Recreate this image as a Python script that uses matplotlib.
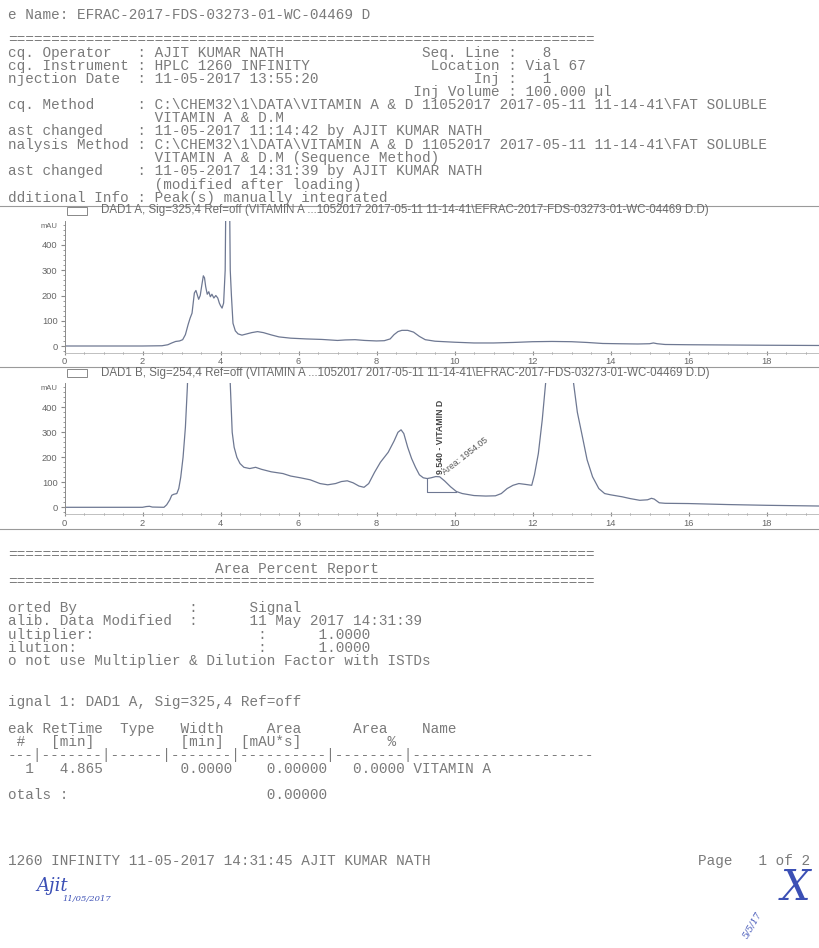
import matplotlib
matplotlib.use('Agg')
import matplotlib.pyplot as plt
from matplotlib.patches import Rectangle
from matplotlib.lines import Line2D
from matplotlib.ticker import MultipleLocator

W, H = 819, 948

# DAD1 A, 325 nm  (time in min, response in mAU)
sigA_time = [0.0, 1.0, 2.0, 2.5, 2.65, 2.75, 2.85, 2.95, 3.03, 3.1, 3.17, 3.22, 3.27,
             3.3, 3.33, 3.37, 3.41, 3.44, 3.48, 3.52, 3.56, 3.59, 3.62, 3.66, 3.7,
             3.74, 3.78, 3.83, 3.88, 3.93, 3.97, 4.0, 4.04, 4.08, 4.12, 4.15, 4.22,
             4.25, 4.28, 4.32, 4.38, 4.45, 4.55, 4.65, 4.8, 4.95, 5.1, 5.3, 5.5, 5.8,
             6.2, 6.6, 7.0, 7.2, 7.45, 7.7, 8.0, 8.2, 8.35, 8.45, 8.55, 8.65, 8.8,
             8.95, 9.1, 9.25, 9.5, 10.0, 10.5, 11.0, 11.5, 12.0, 12.5, 13.0, 13.4,
             13.8, 14.2, 14.7, 15.0, 15.1, 15.2, 15.4, 16.0, 17.0, 18.0, 19.4]
sigA_mau = [0, 0, 0, 1, 5, 12, 18, 20, 25, 45, 85, 110, 130,
            170, 210, 220, 200, 185, 200, 240, 278, 270, 235, 205, 215,
            195, 205, 190, 200, 190, 170, 160, 150, 170, 300, 800, 800,
            300, 200, 90, 60, 48, 43, 47, 53, 57, 53, 44, 36, 31,
            28, 26, 22, 24, 25, 22, 20, 21, 28, 45, 57, 62, 62,
            55, 38, 25, 19, 15, 12, 12, 14, 17, 18, 17, 14,
            10, 9, 8, 9, 12, 9, 6, 5, 4, 3, 2]

# DAD1 B, 254 nm
sigB_time = [0.0, 1.0, 2.0, 2.1, 2.18, 2.25, 2.55, 2.62, 2.7, 2.75, 2.8, 2.88, 2.93,
             2.98, 3.04, 3.1, 3.15, 3.2, 3.4, 3.8, 4.2, 4.25, 4.3, 4.35, 4.42, 4.5,
             4.6, 4.75, 4.9, 5.05, 5.3, 5.6, 5.8, 6.05, 6.3, 6.55, 6.75, 6.95, 7.1,
             7.25, 7.4, 7.55, 7.68, 7.8, 7.95, 8.1, 8.3, 8.45, 8.55, 8.63, 8.7, 8.8,
             8.9, 9.0, 9.1, 9.2, 9.3, 9.4, 9.52, 9.62, 9.75, 9.9, 10.05, 10.2, 10.5,
             10.8, 11.05, 11.2, 11.35, 11.5, 11.65, 11.8, 11.98, 12.05, 12.15, 12.25,
             12.35, 12.6, 12.9, 13.05, 13.15, 13.28, 13.4, 13.54, 13.7, 13.85, 14.0,
             14.3, 14.5, 14.75, 14.95, 15.05, 15.12, 15.25, 15.4, 16.0, 17.0, 18.0, 19.4]
sigB_mau = [0, 0, 0, 3, 4, 1, 0, 10, 30, 48, 52, 55, 75,
            120, 200, 320, 480, 700, 1500, 2000, 800, 495, 300, 240, 200, 175,
            160, 155, 160, 152, 142, 135, 125, 118, 110, 95, 90, 95, 103,
            106, 98, 85, 80, 95, 140, 180, 220, 265, 300, 310, 295, 240,
            195, 160, 130, 118, 115, 118, 123, 122, 105, 82, 63, 55, 47,
            45, 46, 55, 75, 88, 95, 92, 88, 130, 215, 350,
            520, 1500, 1000, 500, 380, 282, 190, 122, 75, 55, 50,
            42, 35, 28, 30, 36, 33, 18, 16, 15, 11, 8, 5]

# manual integration baseline under the vitamin D peak
base_time = [9.30, 9.30, 10.05]
base_mau = [115, 62, 62]

x_ticks = [0, 2, 4, 6, 8, 10, 12, 14, 16, 18]
y_ticks = [0, 100, 200, 300, 400]

peak_label = '9.540 - VITAMIN D'
area_label = 'Area: 1954.05'
titleA = 'DAD1 A, Sig=325,4 Ref=off (VITAMIN A ...1052017 2017-05-11 11-14-41\\EFRAC-2017-FDS-03273-01-WC-04469 D.D)'
titleB = 'DAD1 B, Sig=254,4 Ref=off (VITAMIN A ...1052017 2017-05-11 11-14-41\\EFRAC-2017-FDS-03273-01-WC-04469 D.D)'


def row(*parts):
    s = ''
    for col, txt in parts:
        s = s.ljust(col) + txt
    return s


report_lines = [
    (15, row((0, 'e Name: EFRAC-2017-FDS-03273-01-WC-04469 D'))),
    (40, '=' * 68),
    (53, row((0, 'cq. Operator'), (15, ': AJIT KUMAR NATH'), (48, 'Seq. Line :   8'))),
    (66, row((0, 'cq. Instrument'), (15, ': HPLC 1260 INFINITY'), (49, 'Location : Vial 67'))),
    (79, row((0, 'njection Date'), (15, ': 11-05-2017 13:55:20'), (54, 'Inj :   1'))),
    (92, row((47, 'Inj Volume : 100.000 \u00b5l'))),
    (105, row((0, 'cq. Method'), (15, ': C:\\CHEM32\\1\\DATA\\VITAMIN A & D 11052017 2017-05-11 11-14-41\\FAT SOLUBLE'))),
    (118, row((17, 'VITAMIN A & D.M'))),
    (131, row((0, 'ast changed'), (15, ': 11-05-2017 11:14:42 by AJIT KUMAR NATH'))),
    (144.5, row((0, 'nalysis Method'), (15, ': C:\\CHEM32\\1\\DATA\\VITAMIN A & D 11052017 2017-05-11 11-14-41\\FAT SOLUBLE'))),
    (158, row((17, 'VITAMIN A & D.M (Sequence Method)'))),
    (171, row((0, 'ast changed'), (15, ': 11-05-2017 14:31:39 by AJIT KUMAR NATH'))),
    (184.5, row((17, '(modified after loading)'))),
    (198, row((0, 'dditional Info'), (15, ': Peak(s) manually integrated'))),
    (555, '=' * 68),
    (569, row((24, 'Area Percent Report'))),
    (582, '=' * 68),
    (608, row((0, 'orted By'), (21, ':'), (28, 'Signal'))),
    (621, row((0, 'alib. Data Modified'), (21, ':'), (28, '11 May 2017 14:31:39'))),
    (635, row((0, 'ultiplier:'), (29, ':'), (36, '1.0000'))),
    (648, row((0, 'ilution:'), (29, ':'), (36, '1.0000'))),
    (661, 'o not use Multiplier & Dilution Factor with ISTDs'),
    (702, 'ignal 1: DAD1 A, Sig=325,4 Ref=off'),
    (729, row((0, 'eak'), (4, 'RetTime'), (13, 'Type'), (20, 'Width'), (30, 'Area'), (40, 'Area'), (48, 'Name'))),
    (742, row((1, '#'), (5, '[min]'), (20, '[min]'), (27, '[mAU*s]'), (44, '%'))),
    (755, '---|-------|------|-------|----------|--------|---------------------'),
    (769, row((2, '1'), (6, '4.865'), (20, '0.0000'), (30, '0.00000'), (40, '0.0000 VITAMIN A'))),
    (795, row((0, 'otals :'), (30, '0.00000'))),
    (861, row((0, '1260 INFINITY 11-05-2017 14:31:45 AJIT KUMAR NATH'), (80, 'Page   1 of 2'))),
]

TXT = '#7a7a7a'
LINE = '#6e7892'
MONO = 'Liberation Mono'
SANS = 'Liberation Sans'


def P(x, y):
    return x / W, 1 - y / H


fig = plt.figure(figsize=(W / 100, H / 100), dpi=100)
fig.patch.set_facecolor('white')

for y, s in report_lines:
    fig.text(*P(8, y), s, family=MONO, fontsize=10.38, color=TXT, va='center', ha='left')

# frame lines
for y in [206, 367, 529]:
    fig.add_artist(Line2D([0, 1], [1 - y / H] * 2, transform=fig.transFigure,
                          color='#9a9a9a', lw=0.8))


def chrom(top, bottom, zero_y, px_per_mau, t, v, title, box_y, title_y):
    left, right = 64.5, W
    ax = fig.add_axes([left / W, 1 - bottom / H, (right - left) / W, (bottom - top) / H])
    ax.set_xlim(0, (right - left) / 39.0)
    ax.set_ylim(-(bottom - zero_y) / px_per_mau, (zero_y - top) / px_per_mau)
    ax.plot(t, v, color=LINE, lw=0.9)
    for s in ['top', 'right']:
        ax.spines[s].set_visible(False)
    ax.spines['left'].set_color('#8a8a8a')
    ax.spines['bottom'].set_color('#b5b5b5')
    ax.spines['left'].set_linewidth(0.7)
    ax.spines['bottom'].set_linewidth(0.6)
    ax.set_xticks(x_ticks)
    ax.set_yticks(y_ticks)
    ax.xaxis.set_minor_locator(MultipleLocator(0.5))
    ax.yaxis.set_minor_locator(MultipleLocator(20))
    ax.tick_params(axis='both', which='both', colors='#8a8a8a', labelcolor='#666666',
                   labelsize=6.7)
    ax.tick_params(axis='x', which='major', length=3, direction='inout', pad=2)
    ax.tick_params(axis='x', which='minor', length=2, direction='inout')
    ax.tick_params(axis='y', which='major', length=3, pad=2)
    ax.tick_params(axis='y', which='minor', length=1.5)
    for lab in ax.get_xticklabels() + ax.get_yticklabels():
        lab.set_family(SANS)
    ax.patch.set_alpha(0)
    fig.text(*P(57, top + 5), 'mAU', family=SANS, fontsize=5.5, color='#666666',
             ha='right', va='center')
    fig.add_artist(Rectangle(P(67, box_y + 8), 20 / W, 8 / H, transform=fig.transFigure,
                             fill=False, ec='#888888', lw=0.7))
    tt = fig.text(*P(101, title_y), title, family=SANS, fontsize=6.5, color='#6a6a6a',
                  ha='left', va='center')
    return ax, tt


axA, ttA = chrom(221, 352.5, 346, 0.2525, sigA_time, sigA_mau, titleA, 206.5, 210.5)
axB, ttB = chrom(383, 514, 507.3, 0.25, sigB_time, sigB_mau, titleB, 369, 373)

axB.plot(base_time, base_mau, color=LINE, lw=0.8)
axB.text(9.63, 132, peak_label, rotation=90, family=SANS, fontsize=6.3,
         color='#444444', ha='center', va='bottom', fontweight='bold')
axB.text(9.78, 124, area_label, rotation=38, rotation_mode='anchor', family=SANS,
         fontsize=6.3, color='#555555', ha='left', va='bottom')

# fit the signal titles to the width they have on the print
r = fig.canvas.get_renderer()
for tt in [ttA, ttB]:
    w = tt.get_window_extent(r).width
    tt.set_fontsize(tt.get_fontsize() * 607 / w)

# handwritten sign-offs
BLUE = '#3b4fb5'
fig.text(*P(36, 886), 'Ajit', family='DejaVu Serif', style='italic', fontsize=13,
         color=BLUE, va='center')
fig.text(*P(62, 899), '11/05/2017', family='DejaVu Serif', style='italic', fontsize=6,
         color=BLUE, va='center')
fig.text(*P(795, 888), 'X', family='DejaVu Serif', style='italic', fontsize=30,
         color=BLUE, va='center', ha='center')
fig.text(*P(752, 925), '5/5/17', family='DejaVu Serif', style='italic', fontsize=6.5,
         color=BLUE, va='center', ha='center', rotation=60)

fig.savefig('out.png', dpi=100)
